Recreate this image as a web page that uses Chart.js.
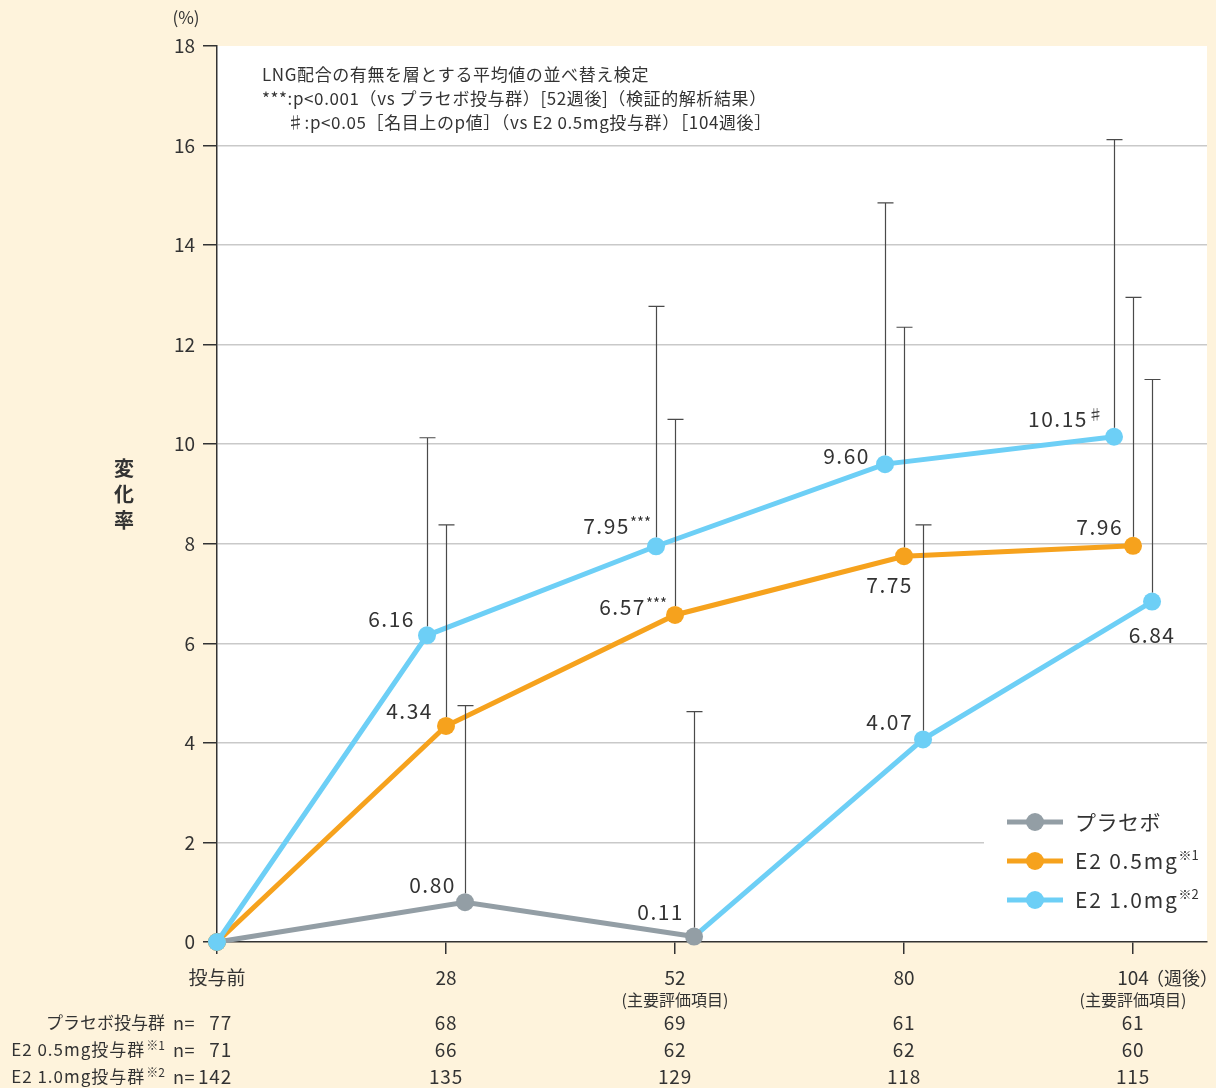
<!DOCTYPE html>
<html>
<head>
<meta charset="utf-8">
<script src="https://cdn.jsdelivr.net/npm/chart.js@4.4.0/dist/chart.umd.min.js"></script>
<style>
  html, body { margin: 0; padding: 0; background: #fef3dc; }
  #wrap { width: 1216px; height: 1088px; }
  canvas { display: block; }
</style>
</head>
<body>
<div id="wrap"><canvas id="chart" width="1216" height="1088"></canvas></div>
<script>
// ---- data ----
const weekLabels = ['投与前', '28', '52', '80', '104'];
const weekSubLabels = ['', '', '(主要評価項目)', '', '(主要評価項目)'];

const placeboValues = [0, 0.80, 0.11, 4.07, 6.84];
const placeboUpper  = [null, 4.75, 4.63, 8.38, 11.30];
const placeboMarks  = ['', '', '', '', ''];

const e205Values = [0, 4.34, 6.57, 7.75, 7.96];
const e205Upper  = [null, 8.38, 10.50, 12.35, 12.95];
const e205Marks  = ['', '', '***', '', ''];

const e210Values = [0, 6.16, 7.95, 9.60, 10.15];
const e210Upper  = [null, 10.13, 12.77, 14.85, 16.12];
const e210Marks  = ['', '', '***', '', '♯'];

const yTickValues = [0, 2, 4, 6, 8, 10, 12, 14, 16, 18];

const groupNames = ['プラセボ投与群', 'E2 0.5mg投与群', 'E2 1.0mg投与群'];
const groupNotes = ['', '※1', '※2'];
const nPlacebo = [77, 68, 69, 61, 61];
const nE205    = [71, 66, 62, 62, 60];
const nE210    = [142, 135, 129, 118, 115];

const legendNames = ['プラセボ', 'E2 0.5mg', 'E2 1.0mg'];
const legendNotes = ['', '※1', '※2'];

const noteLines = [
  'LNG配合の有無を層とする平均値の並べ替え検定',
  '***:p<0.001（vs プラセボ投与群）[52週後]（検証的解析結果）',
  '♯:p<0.05［名目上のp値］（vs E2 0.5mg投与群）［104週後］'
];

// ---- style ----
const FONT = '"Noto Sans CJK JP", "Noto Sans", sans-serif';
const TEXT = '#333333';
const GRAY = '#939ea5';
const ORANGE = '#f6a21d';
const BLUE = '#6dcff6';
const CREAM = '#fef3dc';
const SHIFT = 0.083;      // horizontal separation of the three groups at each visit
const POINT_R = 9;

function toPoints(values, shift) {
  return values.map((v, i) => ({ x: i === 0 ? 0 : i + shift, y: v }));
}

// where each value label sits relative to its point
const labelPlacement = {
  e210: [null, {dx: -12, dy: -16, align: 'right'}, {dx: -5, dy: -20, align: 'right'},
         {dx: -15, dy: -8, align: 'right'}, {dx: -11, dy: -18, align: 'right'}],
  e205: [null, {dx: -13, dy: -15, align: 'right'}, {dx: -8, dy: -8, align: 'right'},
         {dx: 9, dy: 29, align: 'right'}, {dx: -10, dy: -19, align: 'right'}],
  placebo: [null, {dx: -9, dy: -17, align: 'right'}, {dx: -10, dy: -25, align: 'right'},
            {dx: -10, dy: -17, align: 'right'}, {dx: 0, dy: 33, align: 'center'}]
};

const datasets = [
  {
    key: 'e210', label: legendNames[2],
    data: toPoints(e210Values, -SHIFT), upper: e210Upper, marks: e210Marks,
    borderColor: BLUE, pointBackgroundColor: BLUE, order: 0
  },
  {
    key: 'e205', label: legendNames[1],
    data: toPoints(e205Values, 0), upper: e205Upper, marks: e205Marks,
    borderColor: ORANGE, pointBackgroundColor: ORANGE, order: 1
  },
  {
    key: 'placebo', label: legendNames[0],
    data: toPoints(placeboValues, SHIFT), upper: placeboUpper, marks: placeboMarks,
    borderColor: GRAY,
    segment: { borderColor: c => (c.p0DataIndex >= 2 ? BLUE : GRAY) },
    pointBackgroundColor: c => (c.dataIndex >= 3 ? BLUE : GRAY),
    order: 2
  }
].map(d => Object.assign({
  borderWidth: 5, pointRadius: POINT_R, pointHoverRadius: POINT_R,
  pointBorderWidth: 0, tension: 0, fill: false, clip: false
}, d));

function spacing(ctx, px) {
  if ('letterSpacing' in ctx) ctx.letterSpacing = px + 'px';
}

// plot background + legend panel
const backgroundPlugin = {
  id: 'backgroundPlugin',
  beforeDraw(chart) {
    const { ctx, chartArea: a } = chart;
    ctx.save();
    ctx.fillStyle = CREAM;
    ctx.fillRect(0, 0, chart.width, chart.height);
    ctx.fillStyle = '#ffffff';
    ctx.fillRect(a.left, a.top, a.right - a.left, a.bottom - a.top);
    ctx.restore();
  },
  beforeDatasetsDraw(chart) {
    const { ctx, chartArea: a } = chart;
    ctx.save();
    ctx.fillStyle = '#ffffff';
    ctx.fillRect(984, 800, a.right - 984, 125);
    ctx.restore();
  }
};

// upper error bars and value labels
const marksPlugin = {
  id: 'marksPlugin',
  afterDatasetsDraw(chart) {
    const { ctx } = chart;
    const ys = chart.scales.y;
    ctx.save();
    // error bars
    ctx.strokeStyle = '#4a4a4a';
    ctx.lineWidth = 1.2;
    chart.data.datasets.forEach((ds, di) => {
      const meta = chart.getDatasetMeta(di);
      ds.upper.forEach((u, i) => {
        if (u == null) return;
        const p = meta.data[i];
        const top = ys.getPixelForValue(u);
        const x = Math.round(p.x) + 0.5;
        ctx.beginPath();
        ctx.moveTo(x, p.y - POINT_R);
        ctx.lineTo(x, top);
        ctx.moveTo(x - 8, top);
        ctx.lineTo(x + 8, top);
        ctx.stroke();
      });
    });
    // value labels
    ctx.fillStyle = TEXT;
    ctx.textBaseline = 'middle';
    ctx.textAlign = 'left';
    chart.data.datasets.forEach((ds, di) => {
      const meta = chart.getDatasetMeta(di);
      const place = labelPlacement[ds.key];
      ds.data.forEach((pt, i) => {
        const pl = place[i];
        if (!pl) return;
        const p = meta.data[i];
        const main = pt.y.toFixed(2);
        const sup = ds.marks[i];
        spacing(ctx, 1.5);
        ctx.font = '21px ' + FONT;
        const w1 = ctx.measureText(main).width;
        spacing(ctx, 0);
        ctx.font = '15px ' + FONT;
        const w2 = sup ? ctx.measureText(sup).width : 0;
        const total = w1 + w2;
        const x0 = pl.align === 'center' ? p.x + pl.dx - total / 2 : p.x + pl.dx - total;
        const y0 = p.y + pl.dy;
        spacing(ctx, 1.5);
        ctx.font = '21px ' + FONT;
        ctx.fillText(main, x0, y0);
        if (sup) {
          spacing(ctx, 0);
          ctx.font = '15px ' + FONT;
          ctx.fillText(sup, x0 + w1, y0 - 4);
        }
      });
    });
    ctx.restore();
  },
  afterDraw(chart) {
    const { ctx } = chart;
    const xs = chart.scales.x;
    ctx.save();
    ctx.fillStyle = TEXT;
    ctx.textBaseline = 'middle';

    // unit and axis title
    ctx.textAlign = 'center';
    ctx.font = '17px ' + FONT;
    ctx.fillText('(%)', 186, 18);
    ctx.font = 'bold 20px ' + FONT;
    ['変', '化', '率'].forEach((ch, i) => ctx.fillText(ch, 124, 468 + i * 26));

    // test notes
    ctx.textAlign = 'left';
    ctx.font = '17px ' + FONT;
    spacing(ctx, 0.6);
    ctx.fillText(noteLines[0], 262, 75);
    ctx.fillText(noteLines[1], 262, 99);
    ctx.fillText(noteLines[2], 287, 123);
    spacing(ctx, 0);

    // sub labels under visits
    ctx.textAlign = 'center';
    ctx.font = '16px ' + FONT;
    weekSubLabels.forEach((s, i) => {
      if (s) ctx.fillText(s, xs.getPixelForValue(i), 1000);
    });
    ctx.textAlign = 'left';
    ctx.font = '18px ' + FONT;
    ctx.fillText('（週後）', 1146, 978);

    // patient numbers
    const rows = [nPlacebo, nE205, nE210];
    rows.forEach((row, r) => {
      const y = 1023 + r * 27;
      ctx.font = '19px ' + FONT;
      spacing(ctx, 0.8);
      row.forEach((n, i) => {
        if (i === 0) {
          ctx.textAlign = 'right';
          ctx.fillText(String(n), xs.getPixelForValue(0) + 15, y);
        } else {
          ctx.textAlign = 'center';
          ctx.fillText(String(n), xs.getPixelForValue(i), y);
        }
      });
      ctx.textAlign = 'right';
      ctx.font = '18px ' + FONT;
      spacing(ctx, 0.5);
      ctx.fillText('n=', 195, y);
      let right = 165;
      if (groupNotes[r]) {
        spacing(ctx, 0);
        ctx.font = '12px ' + FONT;
        ctx.fillText(groupNotes[r], right, y - 5);
        right -= ctx.measureText(groupNotes[r]).width + 1;
      }
      ctx.font = '17px ' + FONT;
      spacing(ctx, r === 0 ? 0 : 1);
      ctx.fillText(groupNames[r], right, y);
      spacing(ctx, 0);
    });

    // legend
    const legendColors = [GRAY, ORANGE, BLUE];
    legendNames.forEach((name, i) => {
      const y = 822 + i * 39;
      ctx.strokeStyle = legendColors[i];
      ctx.lineWidth = 5;
      ctx.beginPath();
      ctx.moveTo(1007, y);
      ctx.lineTo(1063, y);
      ctx.stroke();
      ctx.fillStyle = legendColors[i];
      ctx.beginPath();
      ctx.arc(1035, y, POINT_R, 0, Math.PI * 2);
      ctx.fill();
      ctx.fillStyle = TEXT;
      ctx.textAlign = 'left';
      ctx.font = '21px ' + FONT;
      spacing(ctx, i === 0 ? 0.5 : 1.8);
      ctx.fillText(name, 1075, y);
      const w = ctx.measureText(name).width;
      spacing(ctx, 0);
      if (legendNotes[i]) {
        ctx.font = '13px ' + FONT;
        ctx.fillText(legendNotes[i], 1075 + w, y - 6);
      }
    });
    ctx.restore();
  }
};

new Chart(document.getElementById('chart'), {
  type: 'line',
  data: { datasets },
  options: {
    responsive: false,
    animation: false,
    devicePixelRatio: 1,
    layout: { padding: { top: 46, right: 9, left: 0, bottom: 0 } },
    plugins: { legend: { display: false }, tooltip: { enabled: false } },
    events: [],
    scales: {
      x: {
        type: 'linear',
        min: 0,
        max: 4.323,
        afterBuildTicks: s => { s.ticks = weekLabels.map((_, i) => ({ value: i })); },
        afterFit: s => { s.height = 146; },
        ticks: {
          callback: (v, i) => weekLabels[i],
          autoSkip: false, maxRotation: 0, padding: 12,
          color: TEXT, font: { family: FONT, size: 19 }
        },
        grid: { drawOnChartArea: false, tickLength: 12, tickColor: '#333333', lineWidth: 1.5 },
        border: { color: '#333333', width: 1.5 }
      },
      y: {
        min: 0,
        max: 18,
        afterBuildTicks: s => { s.ticks = yTickValues.map(v => ({ value: v })); },
        afterFit: s => { s.width = 217; },
        ticks: { padding: 8, color: TEXT, font: { family: FONT, size: 19 } },
        grid: {
          color: c => (c.tick && (c.tick.value === 0 || c.tick.value === 18) ? 'rgba(0,0,0,0)' : '#c9c9c9'),
          lineWidth: 1.5,
          tickLength: 14,
          tickColor: '#333333'
        },
        border: { color: '#333333', width: 1.5 }
      }
    }
  },
  plugins: [backgroundPlugin, marksPlugin]
});
</script>
</body>
</html>
